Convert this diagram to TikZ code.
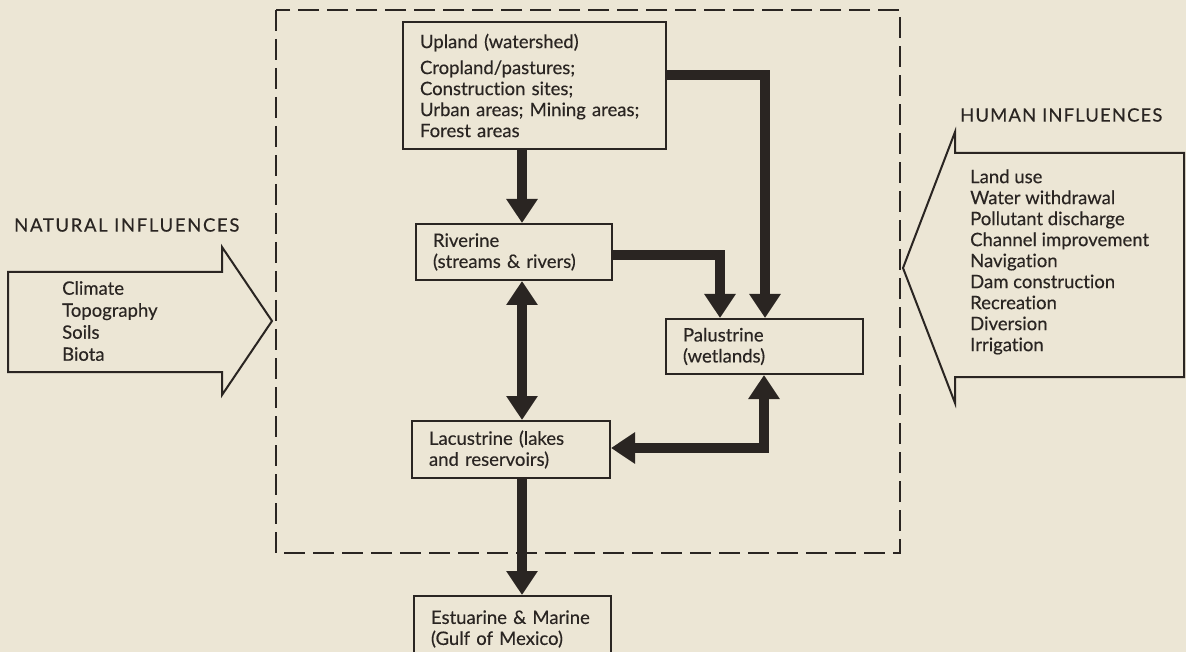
\documentclass[tikz,border=0pt]{standalone}
\usepackage{fontspec}
\setmainfont{Lato}[Ligatures=NoCommon, FakeBold=0.3]
\newfontfamily\capsfont[LetterSpace=9, Ligatures=NoCommon, FakeBold=0.3]{Lato}
\newfontfamily\capsfontb[LetterSpace=6, Ligatures=NoCommon, FakeBold=0.3]{Lato}
\usetikzlibrary{arrows.meta,calc}
\definecolor{bg}{HTML}{ECE6D5}
\definecolor{ink}{HTML}{2A2522}
\begin{document}
\begin{tikzpicture}[x=1pt,y=-1pt,
  font=\fontsize{18.5}{21}\selectfont,
  box/.style={draw=ink, line width=2pt, fill=bg, align=left, anchor=north west,
    inner xsep=17pt, inner ysep=0pt, text=ink},
  flow/.style={draw=ink, line width=10pt, line join=miter,
    -{Triangle[width=30pt,length=24pt]}},
  biflow/.style={flow, {Triangle[width=30pt,length=24pt]}-{Triangle[width=30pt,length=24pt]}},
  bigarrow/.style={draw=ink, line width=2pt, line join=miter},
  lbl/.style={text=ink, anchor=west, inner sep=0pt, align=left}]
\useasboundingbox (0,0) rectangle (1186,652);
\fill[bg] (0,0) rectangle (1186,652);
\clip (0,0) rectangle (1186,652);
% dashed system boundary
\draw[ink, line width=1.5pt, dash pattern=on 21pt off 8pt] (276,10) rectangle (900,553);
% boxes
\node[box, text width=229pt, minimum height=127pt] (up) at (402,21)
  {Upland (watershed)\\[5pt]Cropland/pastures;\\Construction sites;\\Urban areas; Mining areas;\\Forest areas};
\node[box, text width=162pt, minimum height=56pt] (riv) at (415,223)
  {Riverine\\(streams \& rivers)};
\node[box, text width=163pt, minimum height=55pt] (pal) at (665,318)
  {Palustrine\\(wetlands)};
\node[box, text width=164pt, minimum height=57pt] (lac) at (411,420)
  {Lacustrine (lakes\\and reservoirs)};
\node[box, text width=163pt, minimum height=66pt] (est) at (413,595)
  {Estuarine \& Marine\\(Gulf of Mexico)};
% connectors
\coordinate (col) at (522,0);
\draw[flow] (up.south -| col) -- (riv.north -| col);
\coordinate (k1) at (765,75);
\draw[flow] (up.east |- k1) -| (pal.north -| k1);
\coordinate (k2) at (720,255);
\draw[flow] (riv.east |- k2) -| (pal.north -| k2);
\draw[biflow] (riv.south -| col) -- (lac.north -| col);
\coordinate (k3) at (764,448);
\draw[biflow] (pal.south -| k3) |- (lac.east |- k3);
\draw[flow] (lac.south -| col) -- (est.north -| col);
% natural influences
\draw[bigarrow] (8,272) -- (222,272) -- (222,247) -- (272,321) -- (222,395) -- (222,372) -- (8,372) -- cycle;
\node[lbl, font=\capsfont\fontsize{18.5}{21}\selectfont] (natt) at (14,225) {NATURAL INFLUENCES};
\node[lbl, font=\fontsize{18.5}{22}\selectfont] (nat) at (62,321) {Climate\\Topography\\Soils\\Biota};
% human influences
\draw[bigarrow] (1184,153) -- (955,153) -- (955,132) -- (903,268) -- (955,403) -- (955,377) -- (1184,377) -- cycle;
\node[lbl, font=\capsfontb\fontsize{18.5}{21}\selectfont] (humt) at (960,115) {HUMAN INFLUENCES};
\node[lbl] (hum) at (970,262) {Land use\\Water withdrawal\\Pollutant discharge\\Channel improvement\\Navigation\\Dam construction\\Recreation\\Diversion\\Irrigation};
\end{tikzpicture}
\end{document}
